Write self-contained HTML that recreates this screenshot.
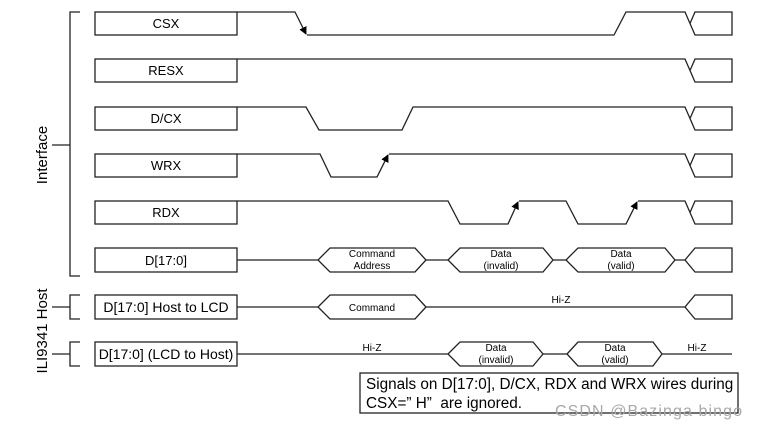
<!DOCTYPE html>
<html><head><meta charset="utf-8"><style>
html,body{margin:0;padding:0;background:#fff;width:758px;height:429px;overflow:hidden}
svg{display:block}
text{font-family:"Liberation Sans",Arial,sans-serif;fill:#000}
</style></head><body>
<svg width="758" height="429" viewBox="0 0 758 429" xmlns="http://www.w3.org/2000/svg">
<defs><marker id="a" markerWidth="8" markerHeight="8" refX="7" refY="4" orient="auto" markerUnits="userSpaceOnUse"><path d="M0,0 L8,4 L0,8 z" fill="#000"/></marker></defs>
<g fill="none" stroke="#222" stroke-width="1.3">
<path d="M80,12 H70 V276 H80"/><path d="M52,145 H70"/>
<path d="M80,295 H70 V319 H80"/><path d="M52,307 H70"/>
<path d="M80,342 H70 V366 H80"/><path d="M52,354 H70"/>
<rect x="95" y="12" width="142" height="23"/>
<rect x="95" y="59" width="142" height="23"/>
<rect x="95" y="107" width="142" height="23"/>
<rect x="95" y="154" width="142" height="23"/>
<rect x="95" y="201" width="142" height="23"/>
<rect x="95" y="248" width="142" height="24"/>
<rect x="95" y="295" width="142" height="24"/>
<rect x="95" y="342" width="142" height="24"/>
<path d="M237,12 H295 L306,34" marker-end="url(#a)"/>
<path d="M307,35 H614 L626,12 H685 L695,35 H732 V12 H695 L690,23.5"/>
<path d="M237,59 H685 L695,82 H732 V59 H695 L690,70.5"/>
<path d="M237,107 H306 L319,130 H402 L413,107 H685 L695,130 H732 V107 H695 L690,118.5"/>
<path d="M237,154 H320 L331,177 H377 L388,155" marker-end="url(#a)"/>
<path d="M389,154 H685 L695,177 H732 V154 H695 L690,165.5"/>
<path d="M237,201 H448 L460,224 H508 L518,202" marker-end="url(#a)"/>
<path d="M519,201 H566 L578,224 H626 L637,202" marker-end="url(#a)"/>
<path d="M638,201 H685 L695,224 H732 V201 H695 L690,212.5"/>
<path d="M237,260 H318 M426,260 H448 M553,260 H566 M675,260 H685"/>
<path d="M318,260 L330,248 H415 L426,260 L415,272 H330 Z"/>
<path d="M448,260 L460,248 H543 L553,260 L543,272 H460 Z"/>
<path d="M566,260 L578,248 H665 L675,260 L665,272 H578 Z"/>
<path d="M732,248 H695 L685,260 L695,272 H732 Z"/>
<path d="M237,307 H318 M426,307 H685"/>
<path d="M318,307 L330,295 H415 L426,307 L415,319 H330 Z"/>
<path d="M732,295 H695 L685,307 L695,319 H732 Z"/>
<path d="M237,354 H448 M543,354 H567 M662,354 H732"/>
<path d="M448,354 L460,342 H533 L543,354 L533,366 H460 Z"/>
<path d="M567,354 L578,342 H653 L662,354 L653,366 H578 Z"/>
<rect x="360" y="373" width="378" height="40"/>
</g>
<g font-size="13" text-anchor="middle">
<text x="166" y="28">CSX</text>
<text x="166" y="75">RESX</text>
<text x="166" y="123">D/CX</text>
<text x="166" y="170">WRX</text>
<text x="166" y="217">RDX</text>
<text x="166" y="265">D[17:0]</text>
<text x="166" y="312" font-size="14">D[17:0] Host to LCD</text>
<text x="166" y="359" font-size="14">D[17:0] (LCD to Host)</text>
</g>
<g font-size="10" text-anchor="middle">
<text x="372" y="257">Command</text><text x="372" y="269">Address</text>
<text x="501" y="257">Data</text><text x="501" y="269">(invalid)</text>
<text x="621" y="257">Data</text><text x="621" y="269">(valid)</text>
<text x="372" y="311">Command</text>
<text x="561" y="303">Hi-Z</text>
<text x="372" y="351">Hi-Z</text>
<text x="496" y="351">Data</text><text x="496" y="363">(invalid)</text>
<text x="615" y="351">Data</text><text x="615" y="363">(valid)</text>
<text x="697" y="351">Hi-Z</text>
</g>
<text transform="translate(47,155) rotate(-90)" font-size="15" text-anchor="middle">Interface</text>
<text transform="translate(47,331) rotate(-90)" font-size="15" text-anchor="middle">ILI9341 Host</text>
<text x="366" y="389" font-size="15.3">Signals on D[17:0], D/CX, RDX and WRX wires during</text>
<text x="366" y="408" font-size="15.3">CSX=”&#160;H”&#160;&#160;are ignored.</text>
<text x="555" y="416" font-size="16" style="fill:#a8a8a8" textLength="187">CSDN @Bazinga bingo</text>
</svg>
</body></html>
